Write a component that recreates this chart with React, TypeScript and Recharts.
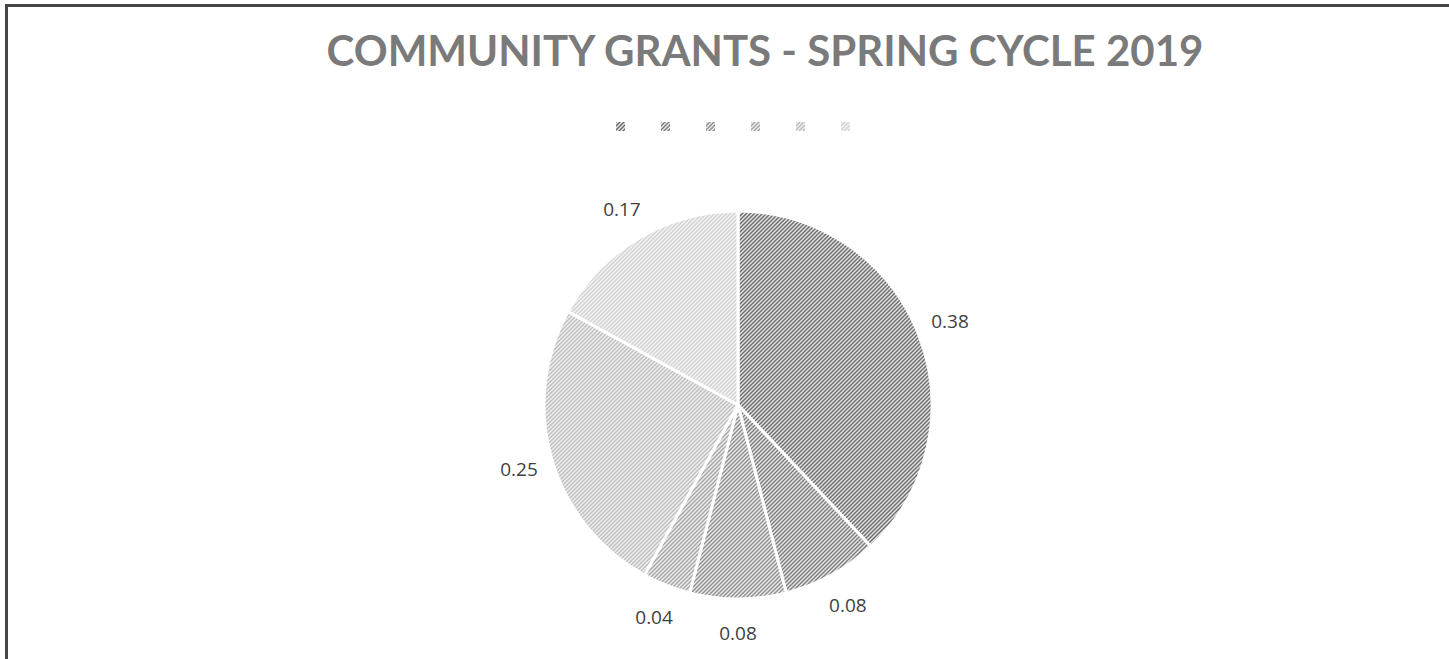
import React from "react";
import { PieChart, Pie, Cell } from "recharts";

const categories = ["A", "B", "C", "D", "E", "F"];
const shares = [0.38, 0.08, 0.08, 0.04, 0.25, 0.17];
const stripeColors = ["#6b6b6b", "#7c7c7c", "#8e8e8e", "#a6a6a6", "#bdbdbd", "#d3d3d3"];
const backColors = ["#e4e4e4", "#e7e7e7", "#eaeaea", "#ededed", "#f0f0f0", "#f3f3f3"];

const pieData = categories.map((name, i) => ({ name, value: shares[i] }));

const RADIAN = Math.PI / 180;

const renderLabel = (props: any) => {
  const { cx, cy, midAngle, outerRadius, value } = props;
  const r = outerRadius + 34;
  const x = cx + r * Math.cos(-midAngle * RADIAN);
  const y = cy + r * Math.sin(-midAngle * RADIAN);
  return (
    <text
      x={x}
      y={y}
      fill="#404040"
      fontSize={19}
      fontFamily="'Open Sans', sans-serif"
      textAnchor="middle"
      dominantBaseline="central"
    >
      {value.toFixed(2)}
    </text>
  );
};

export default function App() {
  return (
    <div
      style={{
        position: "fixed",
        left: 0,
        top: 0,
        width: 1449,
        height: 659,
        overflow: "hidden",
        background: "#fff",
      }}
    >
      <div
        style={{
          position: "absolute",
          left: 5,
          top: 4,
          width: 1500,
          height: 700,
          borderTop: "3px solid #464646",
          borderLeft: "3px solid #464646",
        }}
      />
      <div
        style={{
          position: "absolute",
          left: 0,
          top: 22,
          width: 1530,
          textAlign: "center",
          fontFamily: "Lato, sans-serif",
          fontWeight: 700,
          fontSize: 42,
          color: "#7a7a7a",
          lineHeight: "56px",
        }}
      >
        COMMUNITY GRANTS - SPRING CYCLE 2019
      </div>
      <div style={{ position: "absolute", left: 0, top: 0 }}>
        <PieChart width={1449} height={659} margin={{ top: 0, right: 0, bottom: 0, left: 0 }}>
          <defs>
            {stripeColors.map((c, i) => (
              <pattern
                key={i}
                id={`hatch${i}`}
                width={4}
                height={4}
                patternUnits="userSpaceOnUse"
              >
                <rect width={4} height={4} fill={backColors[i]} />
                <path
                  d="M-1,1 l2,-2 M0,4 l4,-4 M3,5 l2,-2"
                  stroke={c}
                  strokeWidth={1.4}
                />
              </pattern>
            ))}
          </defs>
          <Pie
            data={pieData}
            dataKey="value"
            nameKey="name"
            cx={738}
            cy={405}
            outerRadius={194}
            startAngle={90}
            endAngle={-270}
            stroke="#ffffff"
            strokeWidth={3}
            label={renderLabel}
            labelLine={false}
            isAnimationActive={false}
          >
            {pieData.map((d, i) => (
              <Cell key={d.name} fill={`url(#hatch${i})`} />
            ))}
          </Pie>
        </PieChart>
      </div>
      <div
        style={{
          position: "absolute",
          left: 616,
          top: 122,
          display: "flex",
          gap: 36,
        }}
      >
        {pieData.map((d, i) => (
          <svg key={d.name} width={9} height={9} style={{ display: "block" }}>
            <rect width={9} height={9} fill={`url(#hatch${i})`} />
          </svg>
        ))}
      </div>
    </div>
  );
}
